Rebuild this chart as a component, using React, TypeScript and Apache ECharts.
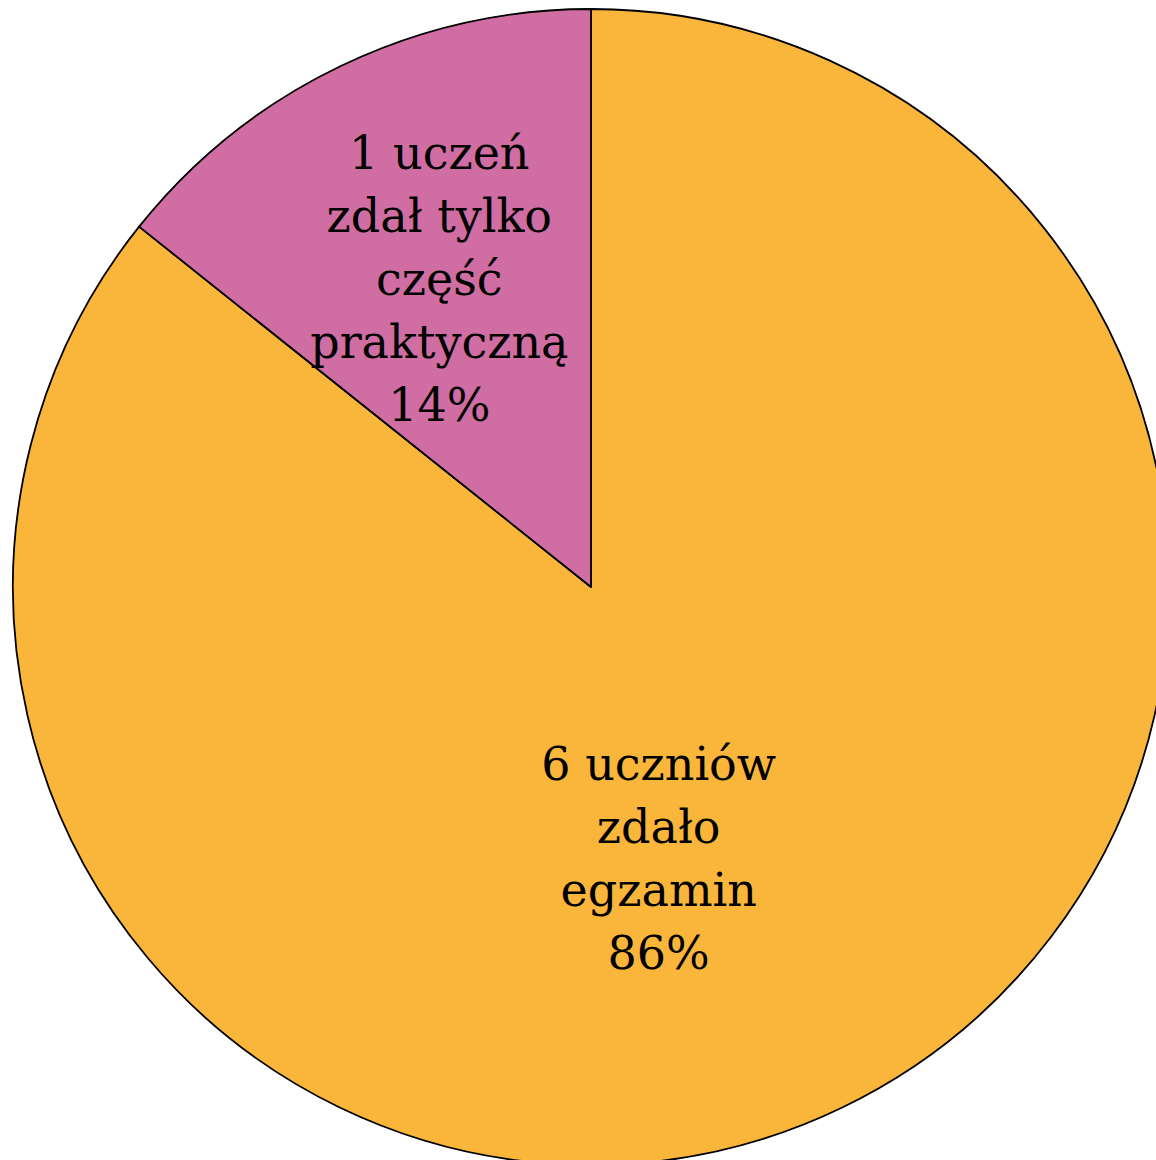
import React, { useEffect, useRef } from "react";
import * as echarts from "echarts";

const categories = ["6 uczniów\nzdało\negzamin", "1 uczeń\nzdał tylko\nczęść\npraktyczną"];
const values = [6, 1];
const percents = ["86%", "14%"];
const colors = ["#F9B63A", "#D06EA3"];
const labelOffsets = [[-59, 8], [-25, -45]];

export default function App() {
  const ref = useRef<HTMLDivElement>(null);
  useEffect(() => {
    if (!ref.current) return;
    const chart = echarts.init(ref.current, null, { renderer: "svg" });
    chart.setOption({
      animation: false,
      series: [
        {
          type: "pie",
          center: [591, 587],
          radius: [0, 578],
          startAngle: 90,
          clockwise: true,
          avoidLabelOverlap: false,
          label: {
            show: true,
            position: "inside",
            fontFamily: "DejaVu Serif",
            fontSize: 46,
            lineHeight: 63,
            color: "#000",
            align: "center",
          },
          labelLine: { show: false },
          emphasis: { disabled: true },
          data: values.map((v, i) => ({
            value: v,
            name: categories[i],
            itemStyle: { color: colors[i], borderColor: "#000", borderWidth: 1.8 },
            label: {
              formatter: categories[i] + "\n" + percents[i],
              offset: labelOffsets[i],
            },
          })),
        },
      ],
    });
    return () => chart.dispose();
  }, []);
  return (
    <div
      ref={ref}
      style={{ position: "fixed", left: 0, top: 0, width: 1156, height: 1160, background: "#fff" }}
    />
  );
}
